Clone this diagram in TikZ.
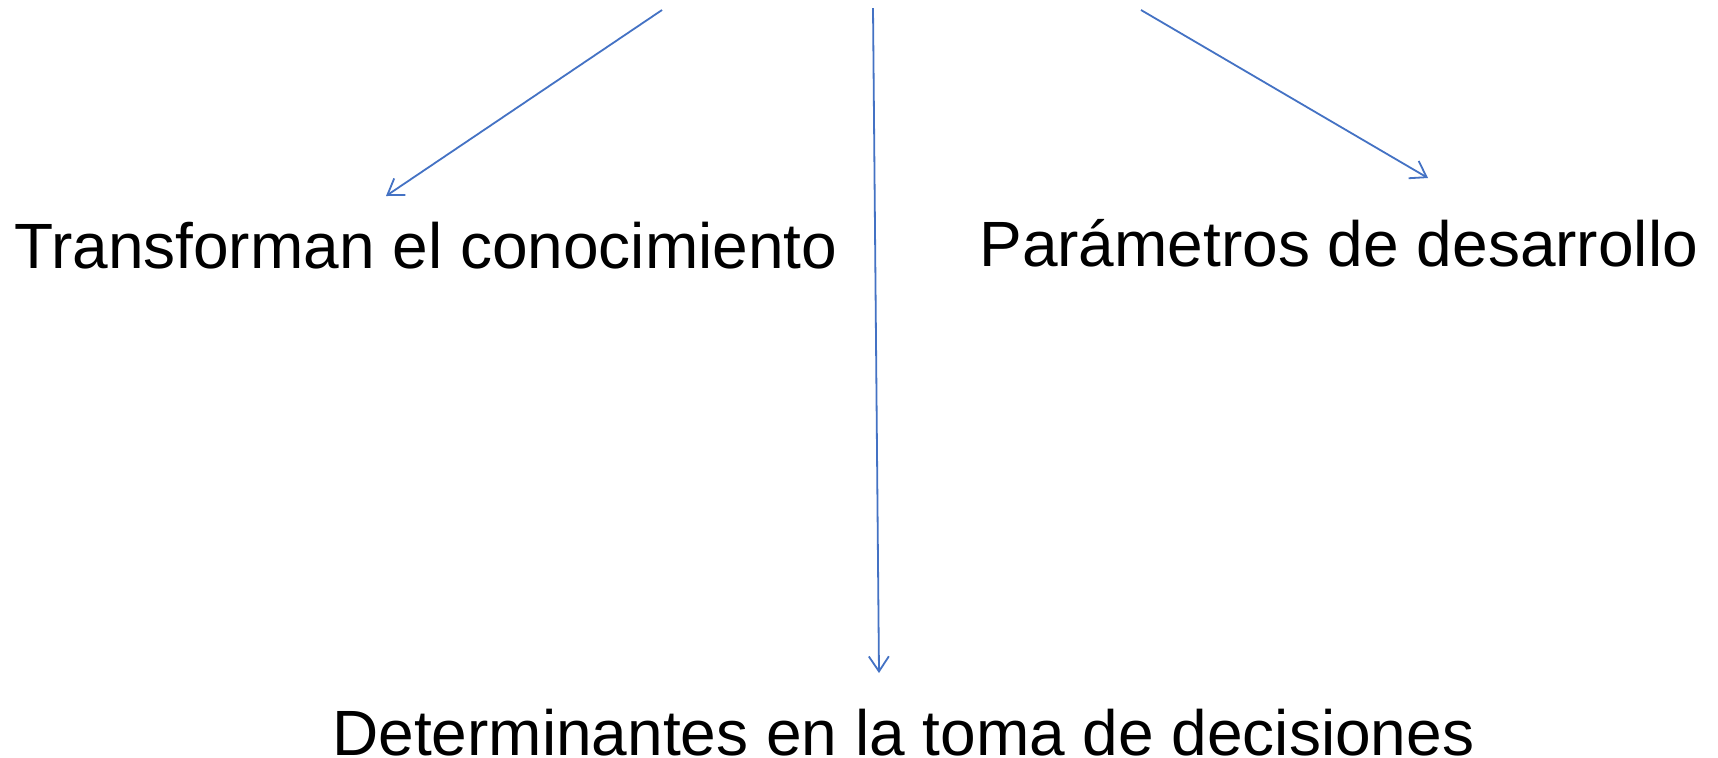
\documentclass[tikz,border=0pt]{standalone}
\usepackage{fontspec}
\setmainfont{Liberation Sans}
\usetikzlibrary{arrows.meta}
\definecolor{arrowblue}{RGB}{68,114,196}
\tikzset{
  lbl/.style={anchor=base west, inner sep=0pt, font=\fontsize{32}{38}\selectfont, text=black},
  conn/.style={draw=arrowblue, line width=0.9pt, -{Straight Barb[length=7.5pt,width=10pt,line width=0.9pt]}}
}
\begin{document}
\begin{tikzpicture}[x=0.5pt,y=-0.5pt]
\useasboundingbox[fill=white] (0,0) rectangle (1718,757);
\node[lbl] (t1) at (14,268) {Transforman el conocimiento};
\node[lbl] (t2) at (979,266) {Parámetros de desarrollo};
\node[lbl] (t3) at (332,755) {Determinantes en la toma de decisiones};
\coordinate (s1) at (662,10);
\coordinate (e1) at (386,196);
\coordinate (s2) at (873,8);
\coordinate (e2) at (879,673);
\coordinate (s3) at (1141,10);
\coordinate (e3) at (1428,178);
\draw[conn] (s1) -- (e1);
\draw[conn] (s2) -- (e2);
\draw[conn] (s3) -- (e3);
\end{tikzpicture}
\end{document}
